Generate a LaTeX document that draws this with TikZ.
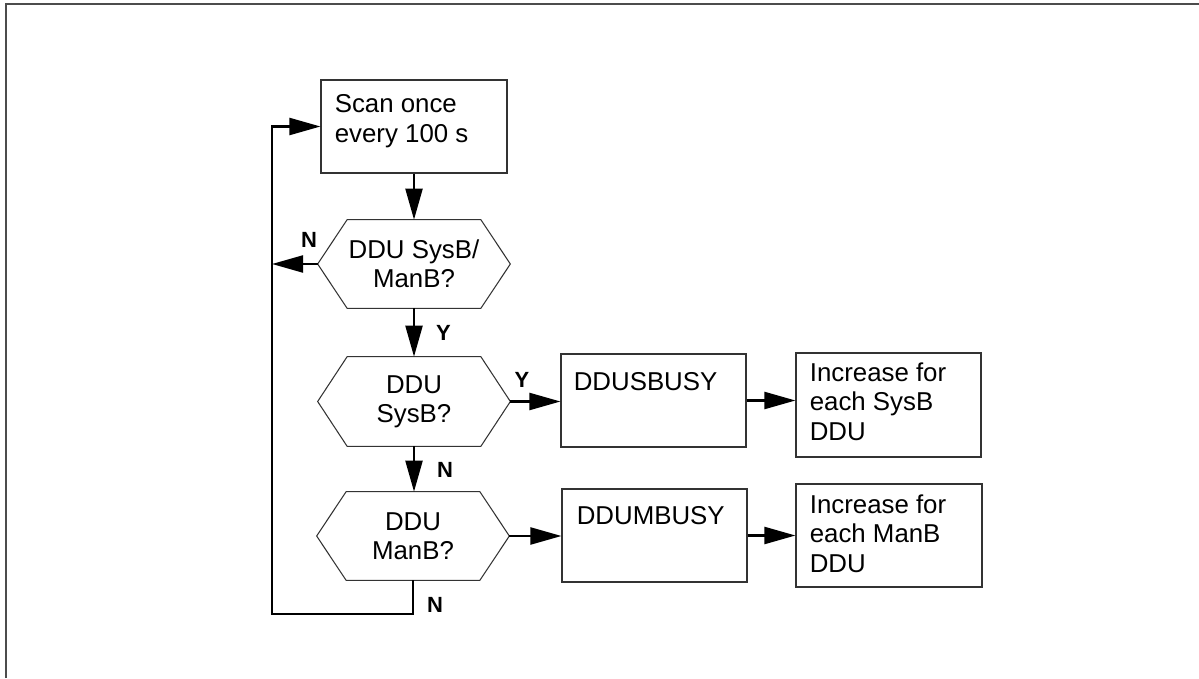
\documentclass[tikz,border=0pt]{standalone}
\usepackage{fontspec}
\setmainfont{Liberation Sans}
\usetikzlibrary{arrows.meta,positioning}

\begin{document}
\begin{tikzpicture}[>={Triangle[length=6.2mm,width=3.4mm]},
  txt/.style={font=\fontsize{14.7}{16.7}\selectfont},
  box/.style={rectangle,draw=black!80,line width=0.6pt,inner sep=0pt},
  dec/.style={rectangle,inner sep=0pt,minimum width=3.84cm,minimum height=1.76cm,align=center,txt},
  intext/.style={txt,align=left,inner sep=0pt,anchor=north west},
  lab/.style={inner sep=0pt,font=\fontsize{12.5}{14}\selectfont\bfseries},
  flow/.style={line width=1.25pt}]
  \useasboundingbox (0,0) rectangle (23.98,-13.56);
  \draw[line width=1pt,black!70] (0.125,-13.56) -- (0.125,-0.08) -- (23.98,-0.08);

  % start box and decisions
  \node[box,minimum width=3.72cm,minimum height=1.86cm] (scan) at (8.28,-2.53) {};
  \node[intext,below right=0.30cm and 0.28cm of scan.north west] (scantxt) {Scan once\\every 100 s};
  \node[dec] (d1) at (8.28,-5.28) {DDU SysB/\\ManB?};
  \node[dec,minimum height=1.78cm] (d2) at (8.28,-8.03) {DDU\\SysB?};
  \node[dec] (d3) at (8.26,-10.72) {DDU\\ManB?};
  \foreach \h in {d1,d2,d3}
    \draw[black!80,line width=0.6pt] (\h.west) -- ([xshift=5.9mm]\h.north west) -- ([xshift=-5.9mm]\h.north east)
      -- (\h.east) -- ([xshift=-5.9mm]\h.south east) -- ([xshift=5.9mm]\h.south west) -- cycle;

  % counters
  \node[box,minimum width=3.70cm,minimum height=1.86cm] (sbusy) at (13.07,-8.01) {};
  \node[intext,below right=0.38cm and 0.26cm of sbusy.north west] (sbusytxt) {DDUSBUSY};
  \node[box,minimum width=3.70cm,minimum height=2.08cm] (sinc) at (17.77,-8.10) {};
  \node[intext,below right=0.20cm and 0.28cm of sinc.north west] (sinctxt) {Increase for\\each SysB\\DDU};
  \node[box,minimum width=3.70cm,minimum height=1.86cm] (mbusy) at (13.09,-10.71) {};
  \node[intext,below right=0.36cm and 0.30cm of mbusy.north west] (mbusytxt) {DDUMBUSY};
  \node[box,minimum width=3.72cm,minimum height=2.06cm] (minc) at (17.78,-10.71) {};
  \node[intext,below right=0.22cm and 0.28cm of minc.north west] (minctxt) {Increase for\\each ManB\\DDU};

  \coordinate (lb) at (5.44,-12.28);

  % connectors
  \draw[flow,->] (scan.south) -- (d1.north);
  \draw[flow,->] (d1.south) -- (d2.north);
  \draw[flow,->] (d2.south) -- (d2.south |- d3.north);
  \draw[flow,->] (d1.west) -- (d1.west -| lb);
  \draw[flow,->] (d3.south) |- (lb) |- (scan.west);
  \draw[flow,->] (d2.east) -- (d2.east -| sbusy.west);
  \draw[flow,->] (sbusy.east) -- (sbusy.east -| sinc.west);
  \draw[flow,->] (d3.east) -- (d3.east -| mbusy.west);
  \draw[flow,->] (mbusy.east) -- (mbusy.east -| minc.west);

  % branch labels
  \node[lab] (n1) at (6.18,-4.80) {N};
  \node[lab] (y1) at (8.87,-6.66) {Y};
  \node[lab] (y2) at (10.44,-7.60) {Y};
  \node[lab] (n2) at (8.90,-9.40) {N};
  \node[lab] (n3) at (8.70,-12.10) {N};
\end{tikzpicture}
\end{document}
